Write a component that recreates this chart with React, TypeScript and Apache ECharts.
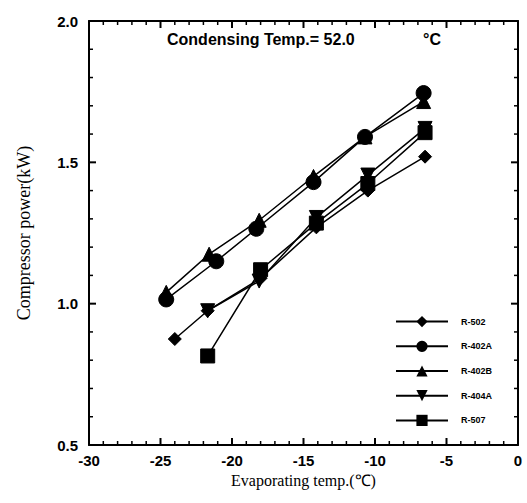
import React, { useEffect, useRef } from "react";
import * as echarts from "echarts";

const seriesNames = ["R-502", "R-402A", "R-402B", "R-404A", "R-507"];
const symbols = ["diamond", "circle", "triangle", "triangle", "rect"];
const symbolRotations = [0, 0, 0, 180, 0];
const symbolSizes = [13, 15, 14, 14, 14];

const r502Temps = [-24.0, -21.7, -18.0, -14.1, -10.5, -6.5];
const r502Power = [0.875, 0.975, 1.09, 1.27, 1.4, 1.52];
const r402aTemps = [-24.6, -21.1, -18.3, -14.3, -10.7, -6.6];
const r402aPower = [1.015, 1.15, 1.265, 1.43, 1.59, 1.745];
const r402bTemps = [-24.6, -21.6, -18.1, -14.3, -10.7, -6.6];
const r402bPower = [1.04, 1.175, 1.295, 1.45, 1.59, 1.715];
const r404aTemps = [-21.7, -18.1, -14.1, -10.5, -6.5];
const r404aPower = [0.975, 1.08, 1.305, 1.455, 1.62];
const r507Temps = [-21.7, -18.0, -14.1, -10.5, -6.5];
const r507Power = [0.815, 1.12, 1.285, 1.425, 1.605];

const allTemps = [r502Temps, r402aTemps, r402bTemps, r404aTemps, r507Temps];
const allPower = [r502Power, r402aPower, r402bPower, r404aPower, r507Power];

// tick positions (major ticks carry labels)
const xMajorTicks = [-30, -25, -20, -15, -10, -5, 0];
const xMinorTicks = [
  -29, -28, -27, -26, -24, -23, -22, -21, -19, -18, -17, -16, -14, -13, -12, -11,
  -9, -8, -7, -6, -4, -3, -2, -1,
];
const yMajorTicks = [0.5, 1.0, 1.5, 2.0];
const yMinorTicks = [0.6, 0.7, 0.8, 0.9, 1.1, 1.2, 1.3, 1.4, 1.6, 1.7, 1.8, 1.9];

const X_MIN = -30;
const X_MAX = 0;
const Y_MIN = 0.5;
const Y_MAX = 2.0;

const titleText = "Condensing Temp.= 52.0";
const unitText = "°C";
const xTitle = "Evaporating temp.(℃)";
const yTitle = "Compressor power(kW)";

export default function App() {
  const ref = useRef<HTMLDivElement>(null);
  useEffect(() => {
    if (!ref.current) return;
    const chart = echarts.init(ref.current, undefined, { renderer: "svg" });
    const lineOnly = {
      axisLine: { show: true, onZero: false, lineStyle: { color: "#000", width: 2 } },
      axisTick: { show: false },
      minorTick: { show: false },
      splitLine: { show: false },
      minorSplitLine: { show: false },
    };
    const labelStyle = {
      color: "#000",
      fontFamily: "Liberation Sans, Arial, sans-serif",
      fontWeight: "bold" as const,
      fontSize: 15,
    };
    const nameStyle = {
      color: "#000",
      fontFamily: "Liberation Serif, Times New Roman, serif",
      fontSize: 18,
    };

    // tick data: [value, axisKind (0 = x, 1 = y), isMajor]
    const tickData: number[][] = [
      ...xMajorTicks.map((v) => [v, 0, 1]),
      ...xMinorTicks.map((v) => [v, 0, 0]),
      ...yMajorTicks.map((v) => [v, 1, 1]),
      ...yMinorTicks.map((v) => [v, 1, 0]),
    ];

    const renderTick = (_params: any, api: any) => {
      const v = api.value(0);
      const kind = api.value(1);
      const major = api.value(2) === 1;
      const len = major ? 7 : 4;
      const width = major ? 2 : 1.5;
      const style = { stroke: "#000", lineWidth: width };
      if (kind === 0) {
        const b = api.coord([v, Y_MIN]);
        const t = api.coord([v, Y_MAX]);
        return {
          type: "group",
          children: [
            { type: "line", shape: { x1: b[0], y1: b[1], x2: b[0], y2: b[1] - len }, style },
            { type: "line", shape: { x1: t[0], y1: t[1], x2: t[0], y2: t[1] + len }, style },
          ],
        };
      }
      const l = api.coord([X_MIN, v]);
      const r = api.coord([X_MAX, v]);
      return {
        type: "group",
        children: [
          { type: "line", shape: { x1: l[0], y1: l[1], x2: l[0] + len, y2: l[1] }, style },
          { type: "line", shape: { x1: r[0], y1: r[1], x2: r[0] - len, y2: r[1] }, style },
        ],
      };
    };

    chart.setOption({
      animation: false,
      backgroundColor: "#fff",
      grid: { show: false, left: 89, right: 9, top: 21, bottom: 58, containLabel: false },
      xAxis: [
        {
          type: "value",
          min: X_MIN,
          max: X_MAX,
          interval: 5,
          position: "bottom",
          ...lineOnly,
          axisLabel: { ...labelStyle, margin: 8 },
          name: xTitle,
          nameLocation: "middle",
          nameGap: 27,
          nameTextStyle: { ...nameStyle, fontSize: 16 },
        },
        {
          type: "value",
          min: X_MIN,
          max: X_MAX,
          interval: 5,
          position: "top",
          ...lineOnly,
          axisLabel: { show: false },
        },
      ],
      yAxis: [
        {
          type: "value",
          min: Y_MIN,
          max: Y_MAX,
          interval: 0.5,
          position: "left",
          ...lineOnly,
          axisLabel: {
            ...labelStyle,
            margin: 11,
            formatter: (v: number) => v.toFixed(1),
          },
          name: yTitle,
          nameLocation: "middle",
          nameGap: 56,
          nameTextStyle: nameStyle,
        },
        {
          type: "value",
          min: Y_MIN,
          max: Y_MAX,
          interval: 0.5,
          position: "right",
          ...lineOnly,
          axisLabel: { show: false },
        },
      ],
      legend: {
        orient: "vertical",
        left: 390,
        top: 311,
        itemWidth: 52,
        itemHeight: 14,
        itemGap: 13.5,
        data: seriesNames,
        textStyle: {
          color: "#000",
          fontFamily: "Liberation Sans, Arial, sans-serif",
          fontWeight: "bold",
          fontSize: 9,
          padding: [0, 0, 0, 8],
        },
      },
      graphic: [
        {
          type: "text",
          left: 167,
          top: 31,
          style: {
            text: titleText,
            fill: "#000",
            font: "bold 16px 'Liberation Sans', Arial, sans-serif",
          },
        },
        {
          type: "text",
          left: 423,
          top: 31,
          style: {
            text: unitText,
            fill: "#000",
            font: "bold 16px 'Liberation Sans', Arial, sans-serif",
          },
        },
      ],
      series: [
        ...seriesNames.map((name, i) => ({
          name,
          type: "line",
          xAxisIndex: 0,
          yAxisIndex: 0,
          symbol: symbols[i],
          symbolRotate: symbolRotations[i],
          symbolSize: symbolSizes[i],
          showAllSymbol: true,
          lineStyle: { color: "#000", width: 1.5 },
          itemStyle: { color: "#000", borderColor: "#000" },
          data: allTemps[i].map((t, j) => [t, allPower[i][j]]),
        })),
        {
          name: "ticks",
          type: "custom",
          xAxisIndex: 0,
          yAxisIndex: 0,
          silent: true,
          clip: false,
          z: 5,
          encode: { x: 0 },
          renderItem: renderTick,
          data: tickData,
        },
      ],
    });
    return () => chart.dispose();
  }, []);
  return (
    <div
      ref={ref}
      style={{ position: "absolute", left: 0, top: 0, width: 527, height: 503, background: "#fff" }}
    />
  );
}
